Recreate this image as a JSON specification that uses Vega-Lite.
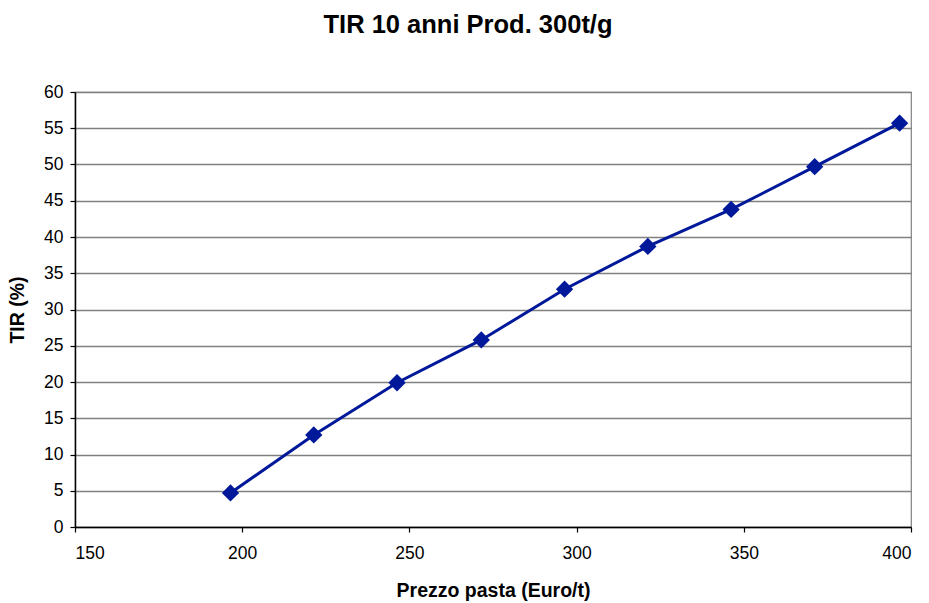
{
  "$schema": "https://vega.github.io/schema/vega-lite/v6.json",
  "autosize": "none",
  "width": 836,
  "height": 435,
  "padding": {"left": 75, "top": 92, "right": 18, "bottom": 76},
  "background": "white",
  "config": {
    "font": "Liberation Sans",
    "view": {"stroke": "#808080", "strokeWidth": 1.2}
  },
  "title": {
    "text": "TIR 10 anni Prod. 300t/g",
    "font": "Liberation Sans",
    "fontSize": 25.5,
    "fontWeight": "bold",
    "color": "black",
    "anchor": "middle",
    "offset": 45,
    "dx": -25
  },
  "data": {
    "values": [
      {"prezzo": 196.5, "tir": 4.7},
      {"prezzo": 221.4, "tir": 12.7},
      {"prezzo": 246.3, "tir": 19.9},
      {"prezzo": 271.5, "tir": 25.8},
      {"prezzo": 296.4, "tir": 32.8},
      {"prezzo": 321.3, "tir": 38.7},
      {"prezzo": 346.2, "tir": 43.8},
      {"prezzo": 371.2, "tir": 49.7},
      {"prezzo": 396.6, "tir": 55.7}
    ]
  },
  "encoding": {
    "x": {
      "field": "prezzo",
      "type": "quantitative",
      "scale": {"domain": [150, 400], "nice": false, "zero": false},
      "axis": {
        "title": "Prezzo pasta (Euro/t)",
        "values": [150, 200, 250, 300, 350, 400],
        "grid": false,
        "domainColor": "black",
        "domainWidth": 1.5,
        "tickColor": "black",
        "tickWidth": 1.2,
        "tickSize": 5,
        "labelFontSize": 17.5,
        "labelColor": "black",
        "labelPadding": 12,
        "titleFontSize": 19.5,
        "titleFontWeight": "bold",
        "titleColor": "black",
        "titlePadding": 20
      }
    },
    "y": {
      "field": "tir",
      "type": "quantitative",
      "scale": {"domain": [0, 60], "nice": false},
      "axis": {
        "title": "TIR (%)",
        "values": [0, 5, 10, 15, 20, 25, 30, 35, 40, 45, 50, 55, 60],
        "grid": true,
        "gridColor": "#808080",
        "gridWidth": 1.5,
        "gridOpacity": 1,
        "domainColor": "black",
        "domainWidth": 1.5,
        "tickColor": "black",
        "tickWidth": 1.2,
        "tickSize": 5,
        "labelFontSize": 17.5,
        "labelColor": "black",
        "labelPadding": 7,
        "titleFontSize": 19.5,
        "titleFontWeight": "bold",
        "titleColor": "black",
        "titlePadding": 16
      }
    }
  },
  "layer": [
    {"mark": {"type": "line", "color": "#00189A", "strokeWidth": 3}},
    {"mark": {"type": "point", "shape": "diamond", "filled": true, "size": 300, "color": "#00189A", "opacity": 1}}
  ]
}
